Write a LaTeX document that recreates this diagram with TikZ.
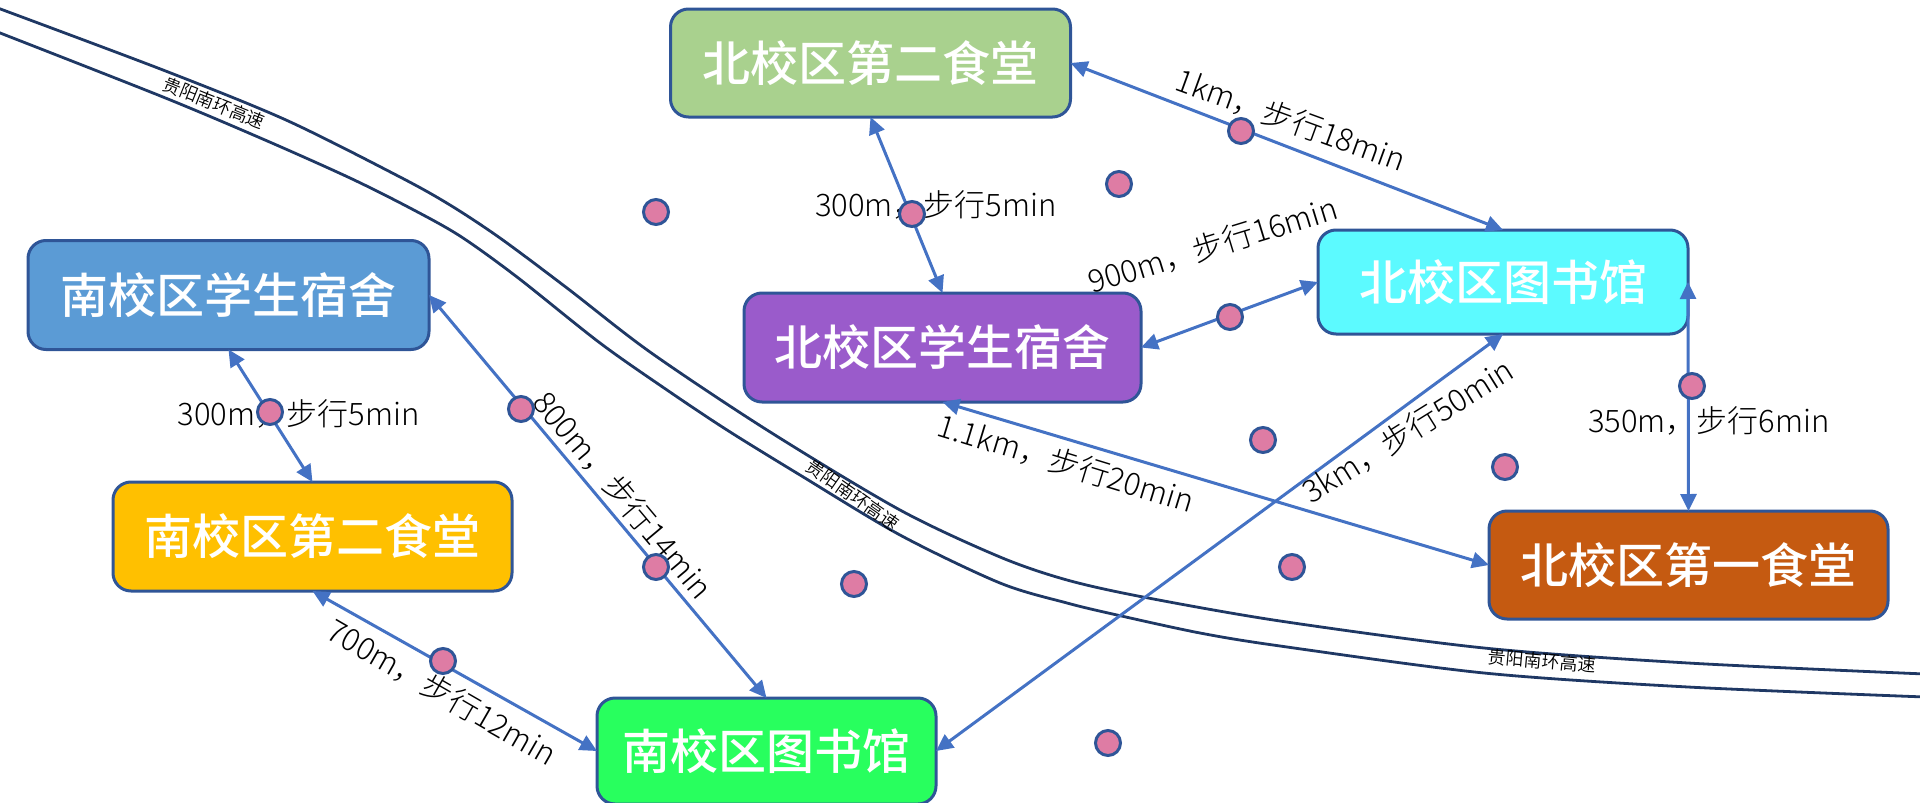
\documentclass[tikz,border=0pt]{standalone}
\usepackage{fontspec}
\setmainfont{Noto Sans CJK SC Medium}
\newfontfamily\lightcjk{Noto Sans CJK SC Light}
\newfontfamily\demicjk{Noto Sans CJK SC DemiLight}
\usetikzlibrary{arrows.meta}
\definecolor{road}{HTML}{1F3864}
\definecolor{linkc}{HTML}{4472C4}
\definecolor{edge}{HTML}{2F5597}
\definecolor{dotc}{HTML}{DE7CA4}
\definecolor{fa}{HTML}{5B9BD5}
\definecolor{fb}{HTML}{A9D18E}
\definecolor{fc}{HTML}{9A5BCB}
\definecolor{fd}{HTML}{5CFAFF}
\definecolor{fe}{HTML}{C55A11}
\definecolor{ff}{HTML}{FFC000}
\definecolor{fg}{HTML}{28FF5E}
\newcommand{\boxlabel}[1]{\raisebox{-1.5pt}{#1}}
\tikzset{
  place/.style={draw=edge,line width=3pt,rounded corners=18pt,outer sep=0pt,inner sep=0pt,
    text=white,font=\fontsize{48}{48}\selectfont,align=center},
  link/.style={draw=linkc,line width=3pt,{Triangle[length=17pt,width=16pt]}-{Triangle[length=17pt,width=16pt]}},
  stop/.style={circle,draw=edge,line width=3pt,fill=dotc,minimum size=25pt,inner sep=0pt,outer sep=0pt},
  walk/.style={font=\lightcjk\fontsize{31}{31}\selectfont,inner sep=0pt,text=black},
  roadline/.style={draw=road,line width=2.8pt},
  roadname/.style={font=\demicjk\fontsize{18}{18}\selectfont,inner sep=0pt,text=black}
}
\begin{document}
\begin{tikzpicture}[x=1pt,y=-1pt]
\useasboundingbox (0,0) rectangle (1920,803);
\draw[roadline] plot[smooth,tension=0.5] coordinates {(-5,7) (163,70) (286,120) (400,177) (450,205) (500,238) (567,288) (650,352) (767,430) (900,510) (1000,557) (1067,580) (1143,597) (1280,621) (1484,648) (1688,663) (1925,674)};
\draw[roadline] plot[smooth,tension=0.5] coordinates {(-5,31) (163,97) (265,140) (350,178) (410,208) (460,236) (517,277) (600,343) (667,390) (727,430) (800,475) (900,535) (1000,583) (1067,603) (1117,615) (1200,633) (1280,646) (1484,673) (1688,687) (1925,697)};
\node[roadname,rotate=-22] (r1) at (214,103) {贵阳南环高速};
\node[roadname,rotate=-35] (r2) at (853,495) {贵阳南环高速};
\node[roadname,rotate=-5] (r3) at (1542,661) {贵阳南环高速};
\node[place,fill=fa,minimum width=401pt,minimum height=109pt] (a) at (228.5,295) {\boxlabel{南校区学生宿舍}};
\node[place,fill=fb,minimum width=400pt,minimum height=108pt] (b) at (870.5,63) {\boxlabel{北校区第二食堂}};
\node[place,fill=fc,minimum width=397pt,minimum height=109pt] (c) at (942.5,347.5) {\boxlabel{北校区学生宿舍}};
\node[place,fill=fd,minimum width=370pt,minimum height=104pt] (d) at (1503,282) {\boxlabel{北校区图书馆}};
\node[place,fill=fe,minimum width=399pt,minimum height=108pt] (e) at (1688.5,565) {\boxlabel{北校区第一食堂}};
\node[place,fill=ff,minimum width=399pt,minimum height=109pt] (f) at (312.5,536.5) {\boxlabel{南校区第二食堂}};
\node[place,fill=fg,minimum width=339pt,minimum height=106pt] (g) at (766.5,751) {\boxlabel{南校区图书馆}};
\draw[link] (a.south) -- (f.north);
\draw[link] (a.east) -- (g.north);
\draw[link] (f.south) -- (g.west);
\draw[link] (b.south) -- (c.north);
\draw[link] (b.east) -- (d.north);
\draw[link] (c.east) -- (d.west);
\draw[link] (d.east) -- (e.north);
\draw[link] (c.south) -- (e.west);
\draw[link] (d.south) -- (g.east);
\node[walk] (l1) at (936,205) {300m，步行5min};
\node[walk] (l2) at (298.5,414) {300m，步行5min};
\node[walk] (l3) at (1709,421) {350m，步行6min};
\node[walk,rotate=-20] (l4) at (1291,120) {1km，步行18min};
\node[walk,rotate=17] (l5) at (1213,245) {900m，步行16min};
\node[walk,rotate=32] (l6) at (1408,431) {3km，步行50min};
\node[walk,rotate=-17] (l7) at (1066,463) {1.1km，步行20min};
\node[walk,rotate=-50] (l8) at (623,495) {800m，步行14min};
\node[walk,rotate=-30] (l9) at (442,692) {700m，步行12min};
\node[stop] (s1) at (1241,131) {};
\node[stop] (s2) at (1119,184) {};
\node[stop] (s3) at (656,212) {};
\node[stop] (s4) at (912,214) {};
\node[stop] (s5) at (1230,317) {};
\node[stop] (s6) at (270,412) {};
\node[stop] (s7) at (521,409) {};
\node[stop] (s8) at (1692,386) {};
\node[stop] (s9) at (1263,440) {};
\node[stop] (s10) at (1505,467) {};
\node[stop] (s11) at (1292,567) {};
\node[stop] (s12) at (854,584) {};
\node[stop] (s13) at (656,567) {};
\node[stop] (s14) at (443,661) {};
\node[stop] (s15) at (1108,743) {};
\end{tikzpicture}
\end{document}
